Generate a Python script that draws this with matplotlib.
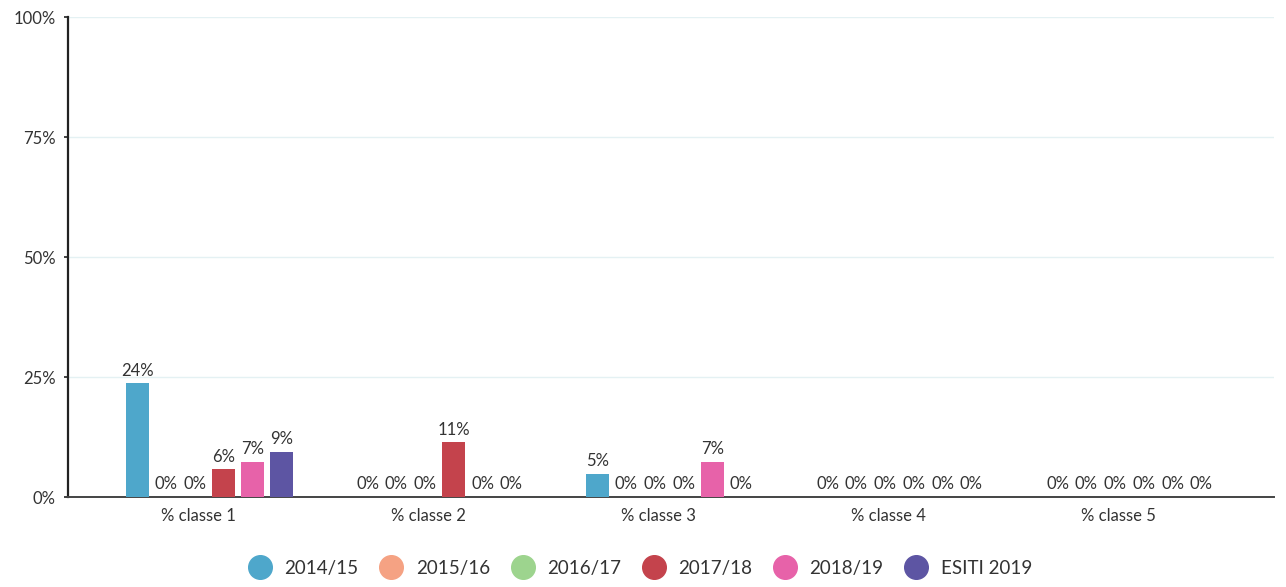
"""Bar chart of class shares per school year."""
import numpy as np
from matplotlib import pyplot as plt
from matplotlib.lines import Line2D

CATEGORIES = ['% classe 1', '% classe 2', '% classe 3', '% classe 4', '% classe 5']
SERIES = ['2014/15', '2015/16', '2016/17', '2017/18', '2018/19', 'ESITI 2019']
COLORS = ['#4ea7cb', '#f5a283', '#9dd48e', '#c4434c', '#e762a9', '#5d55a3']
VALUES = [
    [23.7, 0, 4.8, 0, 0],
    [0, 0, 0, 0, 0],
    [0, 0, 0, 0, 0],
    [5.8, 11.4, 0, 0, 0],
    [7.3, 0, 7.4, 0, 0],
    [9.4, 0, 0, 0, 0],
]
Y_TICKS = [0, 25, 50, 75, 100]

plt.rcParams['font.family'] = ['Lato', 'DejaVu Sans']
fig = plt.figure(figsize=(12.86, 5.87), dpi=100)
ax = fig.add_axes([0.053, 0.153, 0.938, 0.818])

x = np.arange(len(CATEGORIES))
width = 0.1
step = 0.125
for i, (name, vals, col) in enumerate(zip(SERIES, VALUES, COLORS)):
    pos = x + 0.05 + (i - 2.5) * step
    bars = ax.bar(pos, vals, width, color=col, label=name, zorder=3)
    for b, v in zip(bars, vals):
        ax.text(b.get_x() + b.get_width() / 2, v + 1.0, f'{v:.0f}%',
                ha='center', va='bottom', fontsize=12, color='#333333')

ax.set_xlim(-0.565, 4.68)
ax.set_ylim(0, 100)
ax.set_xticks(x)
ax.set_xticklabels(CATEGORIES, fontsize=12, color='#333333')
ax.set_yticks(Y_TICKS)
ax.set_yticklabels([f'{t}%' for t in Y_TICKS], fontsize=12, color='#333333')
ax.tick_params(axis='x', length=0, pad=8)
ax.tick_params(axis='y', length=3, width=1.2, color='#222222', pad=6)
ax.grid(axis='y', color='#e4f1f3', linewidth=1, zorder=0)
for side in ['top', 'right']:
    ax.spines[side].set_visible(False)
ax.spines['left'].set_color('#222222')
ax.spines['left'].set_linewidth(1.6)
ax.spines['bottom'].set_color('#444444')
ax.spines['bottom'].set_linewidth(1.4)

handles = [Line2D([], [], marker='o', linestyle='', markersize=17,
                  markerfacecolor=c, markeredgecolor=c) for c in COLORS]
fig.legend(handles, SERIES, loc='center', bbox_to_anchor=(0.495, 0.032),
           ncol=6, frameon=False, fontsize=13.5, handletextpad=0.3,
           columnspacing=0.75, labelcolor='#333333')

fig.savefig('out.png', dpi=100)
